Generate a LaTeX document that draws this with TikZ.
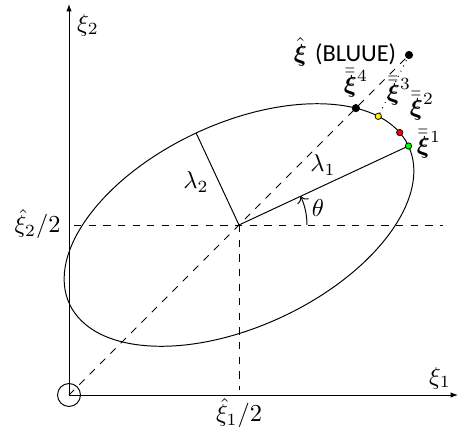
\documentclass[tikz,border=0pt]{standalone}
\usepackage{amsmath}
\usepackage{fontspec}
\newfontfamily\blufont{Carlito}
\usetikzlibrary{arrows.meta}
\begin{document}
\begin{tikzpicture}[x=0.41pt,y=0.41pt,
  axis/.style={-{Latex[length=3pt,width=2.2pt]}},
  lbl/.style={inner sep=0pt},
  dotb/.style={circle,draw=black,fill=black,line width=0.3pt,inner sep=0pt,minimum size=3pt},
  dotc/.style={circle,draw=black,line width=0.3pt,inner sep=0pt,minimum size=2.6pt}]
\useasboundingbox (0,0) rectangle (459,434);
\coordinate (O) at (69,39);
\coordinate (C) at (239,209);
\coordinate (B) at (409,379);
\coordinate (xe) at (458,39);
\coordinate (ye) at (69,430);
\coordinate (ys) at (69,38);
\coordinate (hl) at (74,209);
\coordinate (hr) at (443,209);
\coordinate (vb) at (239,44);
\begin{scope}[shift={(C)},rotate=25]
  \draw (0,0) ellipse [x radius=187, y radius=101.5];
  \coordinate (L2) at (0,101.5);
  \coordinate (p1) at (187,0);
  \coordinate (p2) at ({187*cos(9)},{101.5*sin(9)});
  \coordinate (p3) at ({187*cos(23)},{101.5*sin(23)});
  \coordinate (p4) at ({187*cos(33.84)},{101.5*sin(33.84)});
\end{scope}
% axes
\draw[axis] (O) -- (xe);
\draw[axis] (ys) -- (ye);
\node[circle,draw,inner sep=0pt,minimum size=9.4pt] (oc) at (O) {};
\node[lbl] (lx2) at (88,409) {$\xi_2$};
\node[lbl] (lx1) at (440,56) {$\xi_1$};
% dashed guides
\draw[dashed] (hl) -- (hr);
\draw[dashed] (C) -- (vb);
\draw[dashed] (O) -- (B);
% axes of ellipse
\draw (C) -- (p1);
\draw (C) -- (L2);
\draw[dotted] (B) -- (p3);
\draw[-{To[length=2.5pt]}] (C) ++(68,0) arc[start angle=0,end angle=25,radius=68];
% dots
\node[dotc,fill=green] (x1) at (p1) {};
\node[dotc,fill=red] (x2) at (p2) {};
\node[dotc,fill=yellow] (x3) at (p3) {};
\node[dotb] (x4) at (p4) {};
\node[dotb] (xb) at (B) {};
% labels
\node[lbl] (lam1) at (323,269) {$\lambda_1$};
\node[lbl] (lam2) at (196,252) {$\lambda_2$};
\node[lbl] (th) at (318,226) {$\theta$};
\node[lbl,anchor=east] (lh2) at (61,210) {$\hat{\xi}_2/2$};
\node[lbl] (lh1) at (239,21) {$\hat{\xi}_1/2$};
\node[lbl] (lb) at (345,382) {$\hat{\boldsymbol{\xi}}$ {\blufont (BLUUE)}};
\node[lbl] (l4) at (356,351) {$\bar{\bar{\boldsymbol{\xi}}}^4$};
\node[lbl] (l3) at (399,343) {$\bar{\bar{\boldsymbol{\xi}}}^3$};
\node[lbl] (l2) at (422,328) {$\bar{\bar{\boldsymbol{\xi}}}^2$};
\node[lbl] (l1) at (429,290) {$\bar{\bar{\boldsymbol{\xi}}}^1$};
\end{tikzpicture}
\end{document}
